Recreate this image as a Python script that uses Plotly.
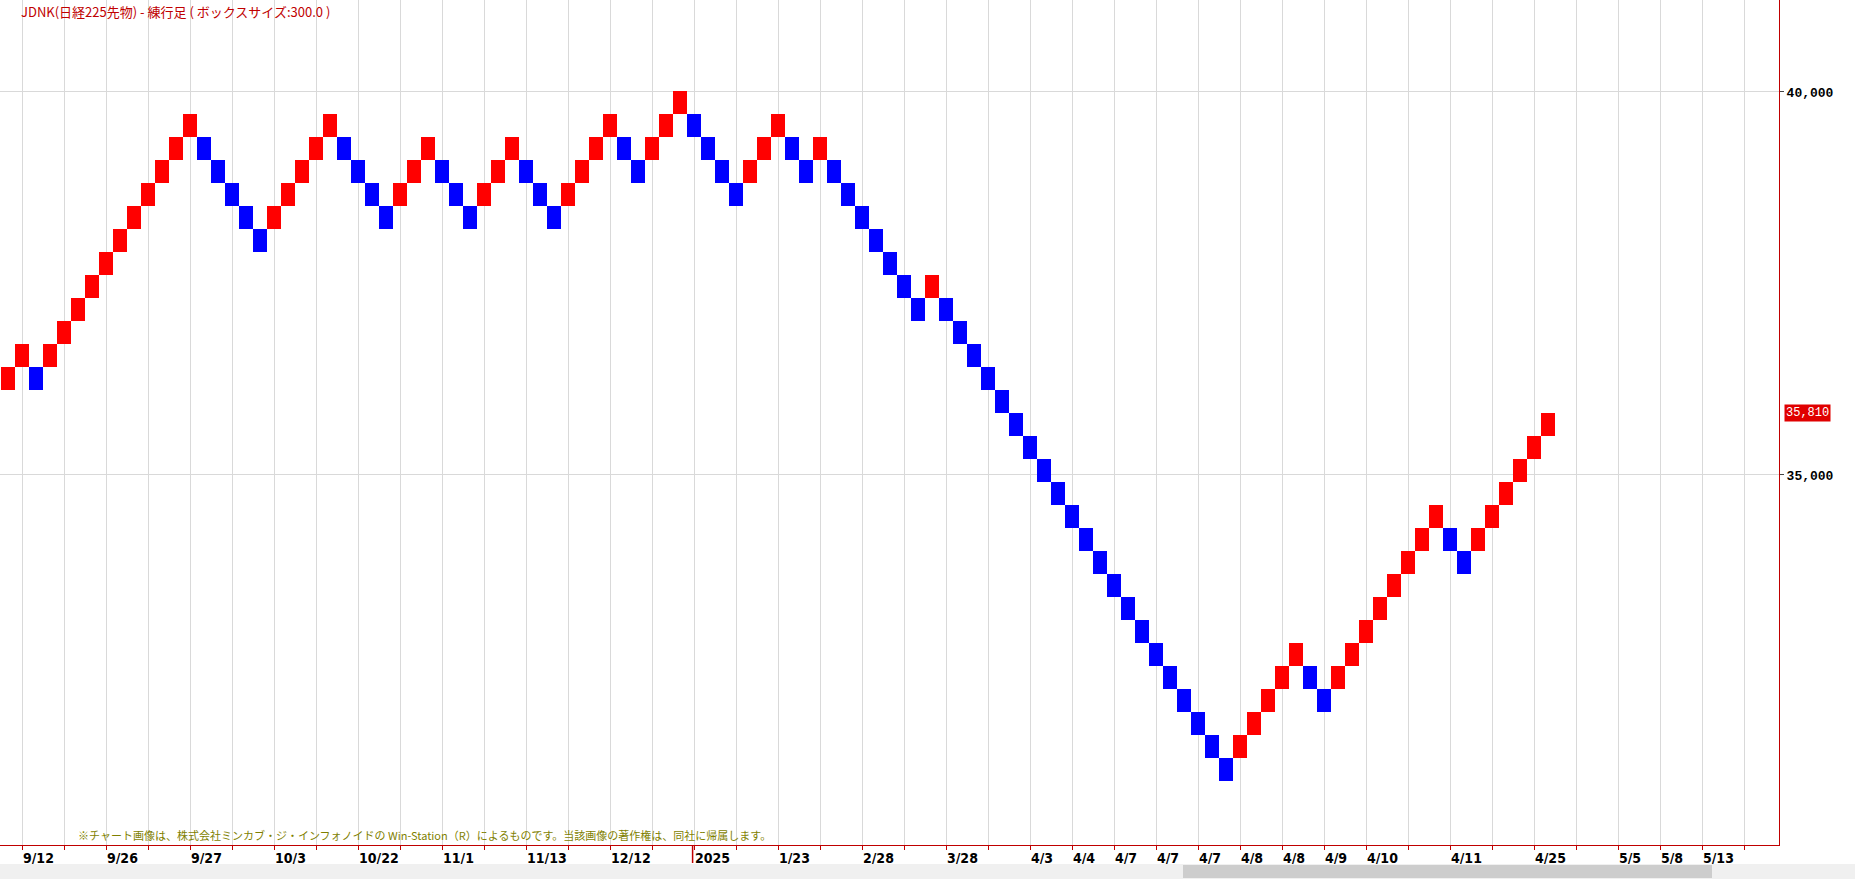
import plotly.graph_objects as go

# ---------------- data ----------------
box_size = 300
last_close = 35810  # top of the last brick / current price

# brick level (in boxes) relative to the last brick (0); one brick per column
brick_levels = [
    2, 3, 2, 3, 4, 5, 6, 7, 8, 9, 10, 11, 12, 13,
    12, 11, 10, 9, 8,
    9, 10, 11, 12, 13,
    12, 11, 10, 9,
    10, 11, 12,
    11, 10, 9,
    10, 11, 12,
    11, 10, 9,
    10, 11, 12, 13,
    12, 11,
    12, 13, 14,
    13, 12, 11, 10,
    11, 12, 13,
    12, 11,
    12,
    11, 10, 9, 8, 7, 6, 5,
    6,
    5, 4, 3, 2, 1, 0, -1, -2, -3, -4, -5, -6, -7, -8, -9, -10, -11, -12, -13, -14, -15,
    -14, -13, -12, -11, -10,
    -11, -12,
    -11, -10, -9, -8, -7, -6, -5, -4,
    -5, -6,
    -5, -4, -3, -2, -1, 0,
]

# x-axis tick labels (brick column where each label starts)
label_cols = [2, 8, 14, 20, 26, 32, 38, 44, 50, 56, 62, 68, 74, 77, 80, 83, 86,
              89, 92, 95, 98, 104, 110, 116, 119, 122]
label_texts = ["9/12", "9/26", "9/27", "10/3", "10/22", "11/1", "11/13", "12/12",
               "2025", "1/23", "2/28", "3/28", "4/3", "4/4", "4/7", "4/7", "4/7",
               "4/8", "4/8", "4/9", "4/10", "4/11", "4/25", "5/5", "5/8", "5/13"]
year_col = 50

y_ticks = [35000, 40000]
y_tick_texts = ["35,000", "40,000"]

title_text = "JDNK(日経225先物) - 練行足 ( ボックスサイズ:300.0 )"
credit_text = ("※チャート画像は、株式会社ミンカブ・ジ・インフォノイドの Win-Station（R）"
               "によるものです。当該画像の著作権は、同社に帰属します。")

# ---------------- derived ----------------
n = len(brick_levels)
cols = list(range(1, n + 1))
bottoms = [last_close - box_size + box_size * lv for lv in brick_levels]
colors = []
for i, lv in enumerate(brick_levels):
    up = True if i == 0 else lv > brick_levels[i - 1]
    colors.append("#ff0000" if up else "#0000ff")

grid_cols = list(range(2, 128, 3))
lab_map = dict(zip(label_cols, label_texts))
grid_text = [lab_map.get(c, "") for c in grid_cols]

AXIS_RED = "#c00000"
W, H = 1855, 879
L_M, R_M, T_M, B_M = 0, 76, 0, 34
plot_w = W - L_M - R_M
plot_h = H - T_M - B_M

fig = go.Figure()
fig.add_trace(go.Bar(
    x=cols, y=[box_size] * n, base=bottoms, width=1.0,
    marker=dict(color=colors, line=dict(width=0)),
    hoverinfo="skip",
))

fig.update_layout(
    width=W, height=H,
    margin=dict(l=L_M, r=R_M, t=T_M, b=B_M, pad=0),
    plot_bgcolor="white", paper_bgcolor="white",
    showlegend=False, bargap=0,
    xaxis=dict(
        range=[6 / 14, 1785 / 14],
        tickmode="array", tickvals=grid_cols, ticktext=grid_text,
        showgrid=True, gridcolor="#d9d9d9", gridwidth=1,
        ticks="outside", ticklen=4, tickcolor=AXIS_RED,
        showline=True, linecolor=AXIS_RED, linewidth=1,
        zeroline=False, ticklabelposition="outside right",
        tickfont=dict(family="Liberation Sans Narrow, DejaVu Sans Condensed, Arial Narrow, sans-serif",
                      size=14, color="#000000", weight="bold"),
        fixedrange=True,
    ),
    yaxis=dict(
        side="right",
        range=[30169, 41201],
        tickmode="array", tickvals=y_ticks, ticktext=y_tick_texts,
        showgrid=True, gridcolor="#d9d9d9", gridwidth=1,
        ticks="outside", ticklen=4, tickcolor="#444444",
        showline=True, linecolor=AXIS_RED, linewidth=1,
        zeroline=False,
        tickfont=dict(family="Liberation Mono, DejaVu Sans Mono, monospace",
                      size=13, color="#000000", weight="bold"),
        fixedrange=True,
    ),
)

# year separator mark below the axis
fig.add_shape(type="line", xref="x", yref="paper",
              x0=year_col - 0.1, x1=year_col - 0.1, y0=0, y1=-(18 / plot_h),
              line=dict(color=AXIS_RED, width=1.5))

# bottom scroll bar strip (screen furniture)
def py(px):
    return (plot_h - px) / plot_h

def px_x(px):
    return px / plot_w

fig.add_shape(type="rect", xref="paper", yref="paper",
              x0=0, x1=px_x(W), y0=py(864), y1=py(879),
              line=dict(width=0), fillcolor="#f0f0f0", layer="above")
fig.add_shape(type="rect", xref="paper", yref="paper",
              x0=px_x(1183), x1=px_x(1712), y0=py(865), y1=py(878),
              line=dict(width=0), fillcolor="#cdcdcd", layer="above")

# title
fig.add_annotation(xref="paper", yref="paper", x=px_x(19), y=py(11),
                   xanchor="left", yanchor="middle", showarrow=False,
                   text=title_text,
                   font=dict(family="Noto Sans CJK JP, sans-serif", size=13, color="#c00000"))

# credit line
fig.add_annotation(xref="paper", yref="paper", x=px_x(76), y=py(835),
                   xanchor="left", yanchor="middle", showarrow=False,
                   text=credit_text,
                   font=dict(family="Noto Sans CJK JP, sans-serif", size=11, color="#7f7f00"))

# current price label
fig.add_annotation(xref="paper", yref="y", x=1, y=last_close, xshift=5,
                   xanchor="left", yanchor="middle", showarrow=False,
                   text=f"{last_close:,}", bgcolor="#e00000", borderpad=1,
                   font=dict(family="Liberation Mono, DejaVu Sans Mono, monospace",
                             size=12, color="#ffffff"))

fig.write_html("out.html", config={"displayModeBar": False},
               post_script="document.body.style.margin='0';document.body.style.overflow='hidden';")
